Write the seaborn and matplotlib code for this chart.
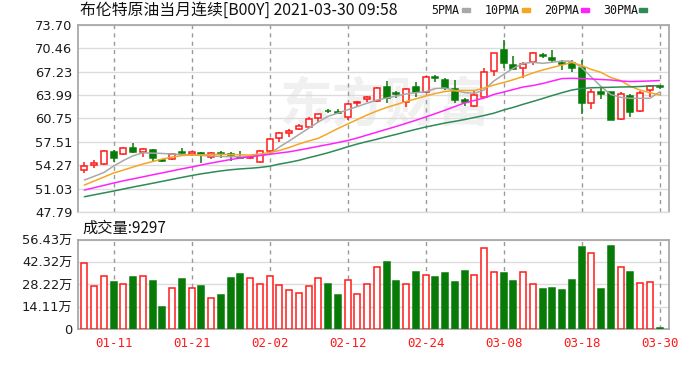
import matplotlib
matplotlib.use("Agg")
import matplotlib.pyplot as plt
from matplotlib.patches import Rectangle
import numpy as np
import pandas as pd
import seaborn as sns

# ---------------- data ----------------
dates = ["01-06", "01-07", "01-08", "01-11", "01-12", "01-13", "01-14", "01-15", "01-18", "01-19",
         "01-20", "01-21", "01-22", "01-25", "01-26", "01-27", "01-28", "01-29", "02-01", "02-02",
         "02-03", "02-04", "02-05", "02-08", "02-09", "02-10", "02-11", "02-12", "02-15", "02-16",
         "02-17", "02-18", "02-19", "02-22", "02-23", "02-24", "02-25", "02-26", "03-01", "03-02",
         "03-03", "03-04", "03-05", "03-08", "03-09", "03-10", "03-11", "03-12", "03-15", "03-16",
         "03-17", "03-18", "03-19", "03-22", "03-23", "03-24", "03-25", "03-26", "03-29", "03-30"]

open_px = [53.60, 54.35, 54.43, 56.14, 55.78, 56.69, 56.14, 56.37, 55.05, 55.09,
           56.15, 55.87, 56.00, 55.45, 56.00, 55.87, 55.35, 55.30, 54.75, 56.20,
           58.00, 58.69, 59.29, 59.60, 60.85, 61.85, 61.60, 60.99, 62.90, 63.50,
           63.17, 65.15, 64.30, 62.99, 65.15, 64.45, 66.45, 66.08, 64.83, 63.30,
           62.52, 63.76, 67.32, 70.23, 68.16, 67.70, 68.60, 69.50, 69.10, 68.40,
           68.39, 67.78, 62.85, 64.40, 64.37, 60.67, 63.90, 61.78, 64.70, 65.30]
high_px = [54.75, 55.00, 56.40, 56.37, 56.80, 57.39, 56.60, 56.50, 55.20, 55.90,
           56.65, 56.25, 56.14, 56.14, 56.30, 56.14, 56.30, 55.50, 56.40, 58.00,
           58.91, 59.29, 59.94, 60.90, 61.32, 62.10, 62.10, 62.85, 63.15, 63.80,
           65.10, 66.00, 64.55, 65.00, 65.84, 66.70, 66.77, 66.40, 66.08, 63.55,
           64.50, 67.78, 69.78, 71.62, 69.40, 68.60, 70.00, 69.80, 70.23, 68.85,
           68.85, 68.90, 64.83, 65.15, 64.37, 64.37, 64.10, 64.55, 65.40, 65.30]
low_px = [53.14, 53.93, 54.30, 54.75, 55.70, 55.92, 55.45, 54.90, 54.70, 54.95,
          55.70, 55.60, 54.62, 55.20, 55.30, 54.90, 55.25, 55.10, 54.60, 56.10,
          57.53, 58.22, 59.15, 59.45, 60.21, 61.45, 61.45, 60.53, 62.50, 63.10,
          63.00, 62.90, 63.62, 62.38, 63.76, 64.30, 65.84, 64.70, 62.90, 62.52,
          62.40, 63.54, 66.60, 67.78, 67.46, 66.30, 68.10, 69.10, 68.60, 67.46,
          67.20, 61.32, 62.06, 63.40, 60.53, 60.53, 60.99, 61.70, 63.76, 64.90]
close_px = [54.16, 54.55, 56.24, 55.22, 56.69, 56.06, 56.47, 55.22, 54.90, 55.78,
            55.95, 56.10, 55.78, 56.00, 55.85, 55.68, 55.30, 55.40, 56.24, 57.95,
            58.69, 59.05, 59.70, 60.67, 61.32, 61.75, 61.50, 62.71, 63.10, 63.70,
            64.93, 63.62, 64.15, 64.83, 64.37, 66.53, 66.35, 65.01, 63.30, 63.10,
            64.00, 67.14, 69.78, 68.39, 67.60, 68.25, 69.78, 69.35, 68.90, 68.30,
            67.70, 62.85, 64.37, 64.20, 60.53, 64.10, 61.68, 64.23, 65.25, 65.10]
volume_wan = [42.05, 27.26, 33.6, 29.6, 28.7, 33.0, 33.6, 30.4, 13.9, 26.2,
              31.5, 25.8, 27.3, 19.9, 21.6, 32.1, 34.7, 32.1, 28.7, 33.6,
              27.9, 24.5, 23.0, 27.3, 32.1, 28.7, 21.6, 31.1, 22.0, 28.5,
              39.1, 42.7, 30.4, 28.5, 35.9, 34.2, 32.8, 35.3, 29.6, 37.0,
              34.2, 51.6, 35.9, 35.3, 30.4, 35.9, 28.5, 25.4, 26.2, 24.5,
              31.1, 51.8, 48.4, 25.4, 52.8, 39.1, 35.9, 29.4, 30.0, 0.93]

ma5 = [52.22, 52.73, 53.26, 54.16, 54.92, 55.58, 55.99, 55.95, 55.90, 55.82,
       55.75, 55.68, 55.63, 55.56, 55.49, 55.45, 55.45, 55.50, 55.65, 55.82,
       56.79, 57.62, 58.51, 59.38, 60.26, 61.05, 61.50, 61.95, 62.40, 62.86,
       63.30, 63.58, 63.86, 64.14, 64.32, 64.44, 64.90, 64.97, 64.62, 64.34,
       64.23, 64.69, 65.94, 66.84, 67.70, 68.38, 68.53, 68.39, 68.54, 68.71,
       68.68, 67.81, 66.49, 65.18, 64.07, 63.68, 63.54, 63.54, 63.54, 64.41]
ma10 = [51.52, 52.08, 52.63, 53.19, 53.60, 54.02, 54.43, 54.78, 55.13, 55.40,
        55.61, 55.68, 55.71, 55.75, 55.78, 55.75, 55.71, 55.68, 55.82, 56.03,
        56.31, 56.72, 57.21, 57.62, 58.00, 58.66, 59.35, 59.98, 60.60, 61.23,
        61.78, 62.27, 62.68, 63.10, 63.47, 63.86, 64.21, 64.48, 64.62, 64.62,
        64.62, 64.97, 65.38, 65.73, 66.12, 66.56, 67.05, 67.46, 67.81, 68.16,
        68.52, 68.09, 67.55, 67.13, 66.42, 66.01, 65.20, 64.69, 64.32, 64.00]
ma20 = [50.83, 51.15, 51.48, 51.80, 52.11, 52.38, 52.66, 52.94, 53.21, 53.49,
        53.77, 54.02, 54.30, 54.57, 54.82, 55.06, 55.27, 55.45, 55.61, 55.78,
        55.96, 56.13, 56.37, 56.62, 56.89, 57.14, 57.41, 57.69, 58.05, 58.45,
        58.85, 59.25, 59.65, 60.07, 60.50, 60.95, 61.42, 61.90, 62.40, 62.90,
        63.24, 63.58, 64.07, 64.41, 64.76, 65.11, 65.31, 65.59, 65.94, 66.28,
        66.31, 66.28, 66.22, 66.15, 66.08, 65.94, 65.87, 65.90, 65.94, 66.01]
ma30 = [49.90, 50.17, 50.43, 50.69, 50.97, 51.25, 51.51, 51.77, 52.04, 52.31,
        52.58, 52.84, 53.08, 53.28, 53.48, 53.64, 53.76, 53.85, 53.96, 54.13,
        54.43, 54.67, 54.95, 55.31, 55.64, 56.00, 56.40, 56.82, 57.21, 57.55,
        57.87, 58.22, 58.55, 58.90, 59.24, 59.56, 59.84, 60.12, 60.35, 60.60,
        60.88, 61.16, 61.48, 61.92, 62.29, 62.71, 63.10, 63.51, 63.93, 64.32,
        64.69, 64.90, 65.00, 65.04, 65.07, 65.11, 65.13, 65.18, 65.25, 65.31]

price_ticks = [47.79, 51.03, 54.27, 57.51, 60.75, 63.99, 67.23, 70.46, 73.70]
price_tick_labels = ["47.79", "51.03", "54.27", "57.51", "60.75", "63.99", "67.23", "70.46", "73.70"]
vol_ticks = [0, 14.11, 28.22, 42.32, 56.43]
vol_tick_labels = ["0", "14.11万", "28.22万", "42.32万", "56.43万"]
date_ticks = ["01-11", "01-21", "02-02", "02-12", "02-24", "03-08", "03-18", "03-30"]
title_text = "布伦特原油当月连续[B00Y] 2021-03-30 09:58"
volume_text = "成交量:9297"
ma_names = ["5PMA", "10PMA", "20PMA", "30PMA"]
ma_colors = ["#a8a8a8", "#f5a623", "#ff22ff", "#2e8b57"]

# ---------------- styling ----------------
sns.set_theme(style="white")
plt.rcParams["font.family"] = ["DejaVu Sans", "Noto Sans CJK SC"]
plt.rcParams["axes.axisbelow"] = True

df = pd.DataFrame({"date": dates, "open": open_px, "high": high_px, "low": low_px,
                   "close": close_px, "volume": volume_wan,
                   "5PMA": ma5, "10PMA": ma10, "20PMA": ma20, "30PMA": ma30})
df["idx"] = np.arange(len(df))
df["up"] = df["close"] >= df["open"]

RED = "#ff1a1a"
GREEN = "#087a08"
FRAME = "#a9a9a9"
GRID = "#dcdcdc"
VGRID = "#9a9a9a"

W, H = 682, 381
fig = plt.figure(figsize=(W / 100, H / 100), dpi=100)
L, R = 78, 669
ax1 = fig.add_axes([L / W, 1 - 212 / H, (R - L) / W, (212 - 25) / H])
ax2 = fig.add_axes([L / W, 1 - 329 / H, (R - L) / W, (329 - 240) / H])

edge = np.where(df["up"], RED, GREEN)
face = np.where(df["up"], "white", GREEN)

# candles
ax1.vlines(df["idx"], df["low"], df["high"], colors=edge, linewidth=1.1, zorder=3)
body_bottom = np.minimum(df["open"], df["close"])
body_h = np.maximum((df["close"] - df["open"]).abs(), 0.05)
ax1.bar(df["idx"], body_h, bottom=body_bottom, width=0.62, color=face,
        edgecolor=edge, linewidth=1.1, zorder=4)

# moving averages
for name, c in zip(ma_names, ma_colors):
    sns.lineplot(data=df, x="idx", y=name, color=c, linewidth=1.1, ax=ax1,
                 legend=False, zorder=5)

# volume
ax2.bar(df["idx"], df["volume"], width=0.62, color=face, edgecolor=edge,
        linewidth=1.1, zorder=3)

tick_pos = [dates.index(d) for d in date_ticks]
for ax in (ax1, ax2):
    ax.set_xlim(-0.65, 59.97)
    ax.set_xlabel("")
    ax.set_ylabel("")
    ax.set_xticks(tick_pos)
    ax.grid(axis="y", color=GRID, linewidth=1)
    ax.tick_params(axis="both", length=0, pad=4)
    for s in ("top", "left", "right", "bottom"):
        ax.spines[s].set_color(FRAME)
        ax.spines[s].set_linewidth(1.3)
    # dashed vertical date guides
    for p in tick_pos:
        ax.axvline(p, color=VGRID, linestyle=(0, (3, 3)), linewidth=1.0, zorder=1)

ax1.spines["bottom"].set_color(GRID)
ax1.spines["bottom"].set_linewidth(1)
ax1.set_ylim(price_ticks[0], price_ticks[-1])
ax1.set_yticks(price_ticks)
ax1.set_yticklabels(price_tick_labels, fontsize=9.4, color="#1c1c1c")
ax1.set_xticklabels([])

ax2.set_ylim(vol_ticks[0], vol_ticks[-1])
ax2.set_yticks(vol_ticks)
ax2.set_yticklabels(vol_tick_labels, fontsize=9.4, color="#1c1c1c")
ax2.set_xticklabels(date_ticks, color=RED, fontsize=9, family=["DejaVu Sans Mono"])
ax2.tick_params(axis="x", pad=6)

# watermark
ax1.text(0.52, 0.57, "东方财富", transform=ax1.transAxes, fontsize=38,
         color="#f0f0f0", fontweight="bold", style="italic", ha="center",
         va="center", zorder=0, family=["Noto Sans CJK SC"])

# title + legend + volume caption
fig.text(80 / W, 1 - 10 / H, title_text, fontsize=11.4, family=["Noto Sans CJK SC"],
         ha="left", va="center", color="#111111")
leg_x = [431, 485, 544, 603]
sw_x = [462, 522, 581, 639]
for name, c, tx, sx in zip(ma_names, ma_colors, leg_x, sw_x):
    fig.text(tx / W, 1 - 10 / H, name, fontsize=8.4, family=["DejaVu Sans Mono"],
             ha="left", va="center", color="#111111")
    fig.patches.append(Rectangle((sx / W, 1 - 12 / H), 8 / W, 4 / H,
                                 transform=fig.transFigure, color=c, figure=fig))
fig.text(82 / W, 1 - 228 / H, volume_text, fontsize=11, family=["Noto Sans CJK SC"],
         ha="left", va="center", color="#111111")

fig.savefig("out.png", dpi=100)
